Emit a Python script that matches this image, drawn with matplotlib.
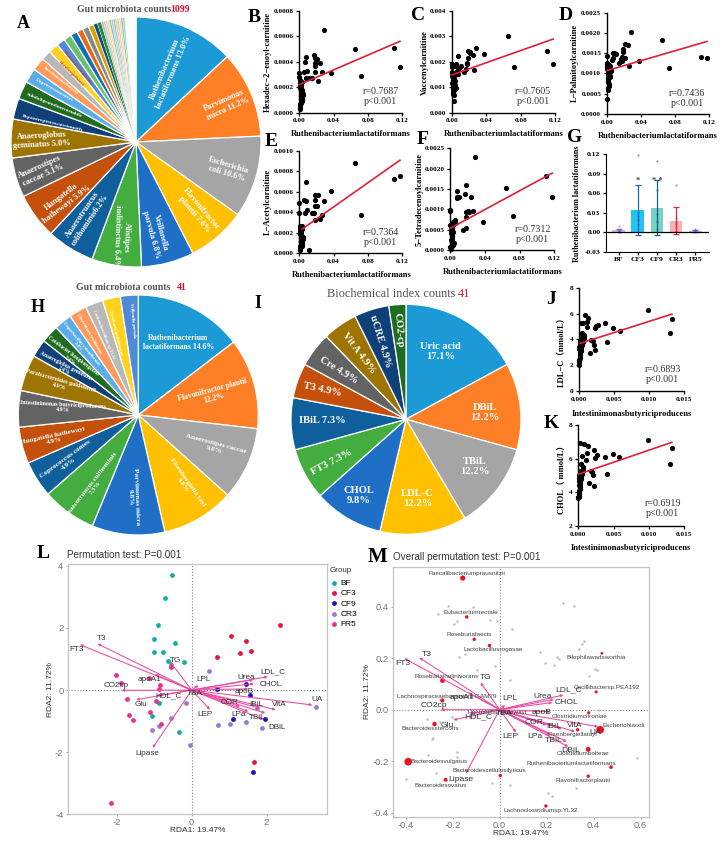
import matplotlib
matplotlib.use('Agg')
import matplotlib.pyplot as plt

W, H = 722, 842
SERIF = ['Liberation Serif', 'Noto Sans CJK SC']
SANS = ['Liberation Sans', 'DejaVu Sans']

# Pie A: Gut microbiota counts 1099
a_values = [13.0, 11.2, 10.6, 7.6, 6.8, 6.4, 6.2, 5.9, 5.1, 5.0, 2.7, 2.3, 1.9, 1.7, 1.3, 1.3,
            1.1, 1.0, 0.9, 0.8, 0.8, 0.7, 0.5, 0.5,
            0.3, 0.25, 0.25, 0.25, 0.25, 0.25, 0.25, 0.25, 0.25, 0.25, 0.25, 0.3, 1.4]
a_labels = ['Ruthenibacterium\nlactatiformans 13.0%', 'Parvimonas\nmicra 11.2%', 'Escherichia\ncoli 10.6%',
            'Flavonifractor\nplautii 7.6%', 'Veillonella\nparvula 6.8%', 'Alistipes\nindistinctus 6.4%',
            'Anaerotruncus\ncolihominis6.2%', 'Hungatella\nhathewayi 5.9%', 'Anaerostipes\ncaccae 5.1%',
            'Anaeroglobus\ngeminatus 5.0%', 'Peptostreptococcusstomatis', 'Subdoligranulumvariabile',
            'Coprococcuscomes', 'Intestinimonasbutyrici', 'Eisenbergiellatayi', 'Megamonasfuniformis']
a_label_x = [0.267, 0.72, 0.733, 0.493, 0.16, -0.115, -0.40, -0.573, -0.76, -0.755, -0.667, -0.653, -0.653, -0.6, -0.52, -0.47]
a_label_y = [0.573, 0.30, -0.219, -0.56, -0.733, -0.76, -0.60, -0.467, -0.232, 0.013, 0.152, 0.293, 0.413, 0.493, 0.547, 0.60]
a_label_rot = [67, 24, -17, -50, -75, -92, 56, 37, 24, 3, -13, -22, -30, -38, -45, -50]
a_label_size = [6, 6, 6, 6, 6, 6, 6, 6, 6, 6, 3.8, 3.8, 3.8, 3.2, 3.2, 3.2]
a_label_color = ['white'] * 14 + ['#c0392b', '#c0392b']

# Pie H: Gut microbiota counts 41
h_values = [14.6, 12.2, 9.8, 9.8, 9.8, 7.3, 4.9, 4.9, 4.9, 4.9, 2.4, 2.4, 2.4, 2.4, 2.4, 2.4, 2.4]
h_labels = ['Ruthenibacterium\nlactatiformans 14.6%', 'Flavonifractor plautii\n12.2%', 'Anaerostipes caccae\n9.8%',
            'Eisenbergiella tayi\n9.8%', 'Parvimonas micra\n9.8%', 'Anaerotruncus colihominis\n7.3%',
            'Coprococcus comes\n4.9%', 'Hungatella hathewayi\n4.9%', 'Intestinimonas butyriciproducens\n4.9%',
            'Parabacteroides goldsteinii\n4.9%', 'Anaeroglobus geminatus\n2.4%', 'Catabacter hongkongensis\n2.4%',
            'Coprobacillus cateniformis\n2.4%', 'Clostridium symbiosum', 'Lachnoclostridium sp.YL32',
            'Roseburia inulinivorans', 'Veillonella parvula']
h_label_x = [0.333, 0.625, 0.64, 0.389, -0.042, -0.375, -0.597, -0.708, -0.625, -0.653, -0.611, -0.556, -0.486, -0.408, -0.292, -0.194, -0.05]
h_label_y = [0.603, 0.175, -0.264, -0.569, -0.68, -0.597, -0.389, -0.194, 0.064, 0.264, 0.389, 0.472, 0.583, 0.68, 0.667, 0.68, 0.79]
h_label_rot = [0, 15, -15, -55, -88, 52, 36, 12, -3, -16, -27, -37, -50, -60, -68, -76, -85]
h_label_size = [5.6, 5.6, 5.2, 5.2, 5.2, 5, 5.2, 5, 4.3, 4.5, 4, 4, 3.4, 3.2, 3.2, 3.2, 3.2]

# Pie I: Biochemical index counts 41
i_values = [17.1, 12.2, 12.2, 12.2, 9.8, 7.3, 7.3, 4.9, 4.9, 4.9, 4.9, 2.4]
i_labels = ['Uric acid\n17.1%', 'DBiL\n12.2%', 'TBiL\n12.2%', 'LDL-C\n12.2%', 'CHOL\n9.8%', 'FT3 7.3%',
            'IBiL 7.3%', 'T3 4.9%', 'Cre 4.9%', 'Vit A 4.9%', 'uCRE 4.9%', 'CO2-cp']
i_label_x = [0.302, 0.689, 0.60, 0.102, -0.407, -0.648, -0.727, -0.727, -0.587, -0.413, -0.227, -0.067]
i_label_y = [0.59, 0.055, -0.413, -0.689, -0.66, -0.375, -0.012, 0.256, 0.43, 0.576, 0.677, 0.779]
i_label_rot = [0, 0, 0, 0, 0, 28, 0, -12, -32, -53, -73, -85]

pie_colors = ['#1b9ad6', '#ff7f27', '#a5a5a5', '#ffc000', '#1f6fc6', '#43ad3f', '#0f5f9c', '#c4500c',
              '#636363', '#9e7400', '#0f4178', '#1f6b1f', '#5aaee8', '#ff9a5c', '#b8b8b8', '#ffd21f',
              '#4f8ad6', '#6cc068', '#0f6fb8', '#e86a12', '#888888', '#d9a000', '#0f4f88', '#2f8a2f',
              '#8cc6ee', '#ffbb8c', '#cfcfcf', '#ffe27a', '#8fb4e6', '#a5d8a2',
              '#8cc6ee', '#ffbb8c', '#cfcfcf', '#ffe27a', '#8fb4e6', '#a5d8a2', 'white']

# Scatter panels B-F share the x values (relative abundance of R. lactatiformans)
x_rumino = [0.1176, 0.1106, 0.0725, 0.065, 0.0374, 0.0284, 0.026, 0.0245, 0.0214, 0.021, 0.0187, 0.0187, 0.0183,
            0.018, 0.0168, 0.0144, 0.0109, 0.0086, 0.0078, 0.0078, 0.0062, 0.0055,
            0.0, 0.0, 0.0005, 0.0008, 0.001, 0.0012, 0.0015, 0.0018, 0.002, 0.0022, 0.0025, 0.0028, 0.003, 0.0033,
            0.0036, 0.004, 0.0005, 0.001, 0.0015, 0.002, 0.0025, 0.003, 0.0035, 0.0008, 0.0012, 0.0018, 0.0022, 0.0045]
y_b = [0.00036, 0.00051, 0.00029, 0.0005, 0.00031, 0.00065, 0.00032, 0.00039, 0.00025, 0.00042, 0.00043, 0.00037,
       0.00032, 0.00039, 0.00045, 0.00027, 0.00027, 0.00033, 0.00044, 0.00027, 0.0004, 0.00032,
       0.00031, 0.00028, 0.00026, 0.00023, 0.00021, 0.00019, 0.00017, 0.00016, 0.00014, 0.00013, 0.00012, 0.00011,
       0.0001, 0.00009, 0.00018, 0.00015, 0.00006, 0.00004, 0.00008, 0.00012, 0.0002, 0.00024, 0.00017, 0.00003,
       0.00007, 0.00011, 0.00022, 0.00014]
y_c = [0.00192, 0.00243, 0.00178, 0.003, 0.00229, 0.00252, 0.00169, 0.00226, 0.00238, 0.00233, 0.00243, 0.00215,
       0.0019, 0.00193, 0.0017, 0.0016, 0.00185, 0.00175, 0.00222, 0.0015, 0.00165, 0.0019,
       0.00191, 0.00178, 0.0016, 0.00145, 0.00135, 0.0012, 0.00105, 0.00092, 0.00082, 0.00068, 0.00045, 0.00132,
       0.00098, 0.00108, 0.00125, 0.00185, 0.00115, 0.00075, 0.0014, 0.00128, 0.00102, 0.00088, 0.0015, 0.00155,
       0.0011, 0.00095, 0.00142, 0.00098]
y_d = [0.00139, 0.00141, 0.00114, 0.00183, 0.0013, 0.00202, 0.00119, 0.00171, 0.00173, 0.00138, 0.0016, 0.00154,
       0.00141, 0.00132, 0.00135, 0.00127, 0.00148, 0.0015, 0.0015, 0.00137, 0.00133, 0.00105,
       0.00115, 0.00123, 0.00143, 0.00112, 0.00105, 0.00098, 0.00092, 0.00085, 0.00082, 0.00075, 0.00072, 0.0007,
       0.00105, 0.00095, 0.00118, 0.00108, 0.00038, 0.00058, 0.00065, 0.00088, 0.00102, 0.0012, 0.00092, 0.00125,
       0.00078, 0.00115, 0.00098, 0.00108]
y_e = [0.00076, 0.00073, 0.00037, 0.00088, 0.00061, 0.00051, 0.00037, 0.00034, 0.00057, 0.00046, 0.00057, 0.00052,
       0.00046, 0.00033, 0.00039, 0.00039, 0.00003, 0.00042, 0.0007, 0.00051, 0.00039, 0.00052,
       0.00049, 0.00039, 0.00027, 0.00025, 0.00022, 0.00019, 0.00017, 0.00015, 0.00013, 0.00012, 0.00011, 0.0001,
       0.00008, 0.00007, 0.00027, 0.00016, 0.00006, 0.00004, 0.00009, 0.00012, 0.0002, 0.00024, 0.00013, 0.00003,
       0.00007, 0.00011, 0.00021, 0.00014]
y_f = [0.0013, 0.00183, 0.00084, 0.00152, 0.00069, 0.00228, 0.00097, 0.00131, 0.00094, 0.00097, 0.00055, 0.00094,
       0.00161, 0.00082, 0.00138, 0.00049, 0.00131, 0.00145, 0.00131, 0.00127, 0.00074, 0.00067,
       0.00098, 0.00095, 0.00062, 0.00058, 0.00052, 0.00048, 0.00042, 0.00038, 0.00032, 0.00028, 0.00022, 0.00018,
       0.00015, 0.00012, 0.00068, 0.00045, 0.00008, 0.00004, 0.00025, 0.00035, 0.00052, 0.00062, 0.00016, 0.00002,
       0.00006, 0.00012, 0.0005, 0.00018]

# Panels J and K share the x values (I. butyriciproducens)
x_intest = [0.01324, 0.01296, 0.00987, 0.0058, 0.0049, 0.00375, 0.004, 0.00266, 0.00237, 0.00223, 0.00228, 0.00157,
            0.002, 0.00175, 0.00214, 0.00081, 0.00133, 0.00119, 0.00109, 0.0005, 0.0003, 0.0007, 0.0004,
            0.0, 0.00002, 0.00005, 0.00008, 0.0001, 0.00012, 0.00015, 0.00018, 0.0002, 0.00022, 0.00025, 0.00028,
            0.0003, 0.00035, 0.0004, 0.00045, 0.0005, 0.00055, 0.0006, 0.00065, 0.0007, 0.00003, 0.00006, 0.00012,
            0.00016, 0.00024, 0.00032]
y_j = [5.6, 4.47, 6.3, 4.68, 4.86, 5.3, 3.78, 5.12, 5.04, 4.86, 3.19, 2.98, 3.88, 3.95, 3.57, 5.91, 5.68, 5.37, 4.99,
       5.3, 5.3, 4.34, 4.47,
       2.05, 2.3, 2.4, 2.55, 2.6, 2.7, 2.8, 2.9, 3.0, 3.1, 3.2, 3.3, 3.4, 3.5, 3.6, 3.7, 3.8, 3.9, 4.0, 4.1, 4.2,
       3.25, 3.45, 3.65, 3.85, 4.05, 4.4]
y_k = [6.65, 5.68, 7.11, 6.12, 6.28, 6.1, 5.11, 6.22, 6.02, 6.51, 4.4, 4.55, 5.23, 5.27, 5.01, 6.89, 6.77, 6.32, 5.92,
       6.16, 6.91, 5.5, 5.7,
       3.65, 3.7, 3.75, 3.8, 3.9, 4.0, 4.1, 4.2, 4.3, 4.4, 4.5, 4.6, 4.7, 4.8, 4.9, 5.0, 5.1, 5.2, 5.3, 5.4, 5.5,
       4.45, 4.65, 4.85, 5.05, 5.25, 5.7]

# Fit lines, (x0, x1), (y0, y1)
line_b = ([0.0, 0.1176], [0.00022, 0.00056])
line_c = ([0.0, 0.1176], [0.00148, 0.00289])
line_d = ([0.0, 0.1176], [0.00107, 0.00179])
line_e = ([0.003, 0.1176], [0.000235, 0.00091])
line_f = ([0.0, 0.1176], [0.00053, 0.00189])
line_j = ([0.00014, 0.01324], [3.70, 5.96])
line_k = ([0.0, 0.01324], [5.07, 6.97])

# Panel G
g_groups = ['BF', 'CF3', 'CF9', 'CR3', 'FR5']
g_means = [0.003, 0.034, 0.037, 0.017, 0.002]
g_low = [0.0, -0.004, -0.005, -0.003, 0.0]
g_high = [0.005, 0.072, 0.08, 0.038, 0.004]
g_dots = [[0.01, 0.004, 0.003, 0.002, 0.001], [0.118, 0.03, 0.025, 0.02, 0.018, 0.012],
          [0.11, 0.065, 0.028, 0.017, 0.015, 0.005], [0.072, 0.021, 0.015, 0.012, 0.008, 0.002],
          [0.005, 0.004, 0.003, 0.002, 0.001]]
g_fill = ['#c9b6ec', '#22c5ee', '#79cfc9', '#f7b0b6', '#c4b2ee']
g_edge = ['#7a55c8', '#1f62d0', '#0c6b70', '#e0283c', '#7a55c8']

# RDA sample scores for L
bf_x = [-0.53, -0.70, -0.89, -1.00, -0.44, -1.01, -0.76, -0.63, -0.20, -0.56, -0.88, -1.05, -0.35]
bf_y = [3.70, 2.95, 2.11, 1.63, 1.50, 1.23, 1.23, 0.95, 0.89, 0.81, -0.43, -0.84, -1.34]
cf3_x = [2.36, 1.06, 1.45, 1.57, 1.28, 0.68, 1.67]
cf3_y = [2.08, 1.74, 1.58, 1.26, 1.20, 1.06, -2.32]
cf9_x = [0.68, 1.46, 1.56, 1.11, 1.96, 1.63]
cf9_y = [0.05, 0.20, -0.17, -0.92, -0.94, -2.63]
cr3_x = [0.47, 3.31, -0.16, -0.55, -1.06, -0.87, -0.04, 0.71, 1.02, 1.45, 1.89, 1.73]
cr3_y = [0.61, -0.53, -0.42, -0.90, -1.28, -1.15, -1.78, -1.14, -1.09, -1.04, -1.23, -0.58]
fr5_x = [-2.03, -1.88, -1.74, -1.67, -1.57, -1.11, -0.96, -0.81, -2.16, -0.54, -1.14, -0.86, -0.84]
fr5_y = [0.47, 0.24, -0.28, -0.80, -0.96, -0.72, -0.34, -1.10, -3.63, 0.75, 0.38, 0.05, 0.15]

# Environmental vectors, same order for L and M
env_names = ['T3', 'FT3', 'TG', 'apoA1', 'CO2cp', 'Glu', 'HDL_C', 'TBA', 'Lipase', 'LPL', 'LEP', 'LDL_C', 'Urea',
             'CHOL', 'apoB', 'COR', 'IBiL', 'VitA', 'UA', 'LPa', 'TBiL', 'DBiL']
l_env_x = [-2.51, -2.98, -0.58, -0.98, -1.87, -1.48, -0.93, 0.13, -1.04, 0.18, 0.49, 2.03, 1.64, 1.66, 1.51, 1.29, 1.82, 2.24, 3.22, 1.51, 1.96, 1.91]
l_env_y = [1.49, 1.46, 0.92, 0.51, -0.01, -0.31, -0.18, -0.08, -1.86, 0.15, -0.63, 0.43, 0.33, 0.20, 0.04, -0.53, -0.58, -0.63, -0.48, -0.69, -0.74, -0.95]
l_text_x = [-2.40, -3.08, -0.44, -1.14, -2.02, -1.34, -0.62, 0.07, -1.19, 0.32, 0.35, 2.17, 1.46, 2.10, 1.40, 1.00, 1.72, 2.35, 3.35, 1.25, 1.75, 2.28]
l_text_y = [1.66, 1.32, 0.94, 0.34, 0.14, -0.46, -0.18, -0.12, -2.04, 0.33, -0.80, 0.59, 0.41, 0.17, -0.06, -0.40, -0.47, -0.45, -0.30, -0.79, -0.89, -1.22]
m_env_x = [-0.342, -0.406, -0.081, -0.133, -0.25, -0.197, -0.126, 0.03, -0.143, 0.023, 0.07, 0.271, 0.231, 0.224, 0.214, 0.2, 0.264, 0.32, 0.42, 0.214, 0.285, 0.292]
m_env_y = [0.202, 0.199, 0.105, 0.066, 0.0, -0.04, -0.014, -0.008, -0.247, 0.018, -0.088, 0.057, 0.04, 0.028, -0.008, -0.06, -0.075, -0.085, -0.066, -0.098, -0.124, -0.144]
m_text_x = [-0.312, -0.413, -0.06, -0.159, -0.278, -0.221, -0.091, 0.018, -0.165, 0.045, 0.045, 0.294, 0.183, 0.285, 0.18, 0.148, 0.231, 0.318, 0.409, 0.149, 0.23, 0.302]
m_text_y = [0.214, 0.179, 0.126, 0.048, 0.017, -0.06, -0.028, -0.014, -0.272, 0.043, -0.105, 0.078, 0.05, 0.028, -0.012, -0.049, -0.065, -0.062, -0.087, -0.104, -0.119, -0.158]

# Species in M
sp_names = ['Faecalibacteriumprausnitzii', 'Eubacteriumrectale', 'Roseburiafaecis', 'Lactobacillusrogosae',
            'Roseburiainulinivorans', 'Lachnospiraceaebacterium GAM79', 'Bacteroidesstercoris', 'Bacteroidesvulgatus',
            'Bacteroidescellulosilyticus', 'Bacteroidesovatus', 'Lachnoclostridiumsp.YL32', 'Flavonifractorplautii',
            'Ruthenibacteriumlactatiformans', 'Clostridiumbolteae', 'Eisenbergiellatayi', 'Escherichiacoli',
            'Clostridiumcitroniae', 'Oscillibactersp.PEA192', 'Bilophilawadsworthia', 'Hungatellahathewayi']
sp_x = [-0.157, -0.14, -0.108, -0.043, -0.243, -0.244, -0.277, -0.389, 0.003, -0.23, 0.197, 0.377, 0.474, 0.377, 0.332, 0.428, 0.379, 0.411, 0.435, 0.0]
sp_y = [0.511, 0.36, 0.273, 0.249, 0.113, 0.036, -0.056, -0.202, -0.256, -0.272, -0.374, -0.258, -0.223, -0.154, -0.078, -0.078, -0.012, 0.069, 0.219, -0.005]
sp_text_x = [-0.139, -0.122, -0.129, -0.026, -0.226, -0.226, -0.295, -0.258, -0.043, -0.251, 0.177, 0.356, 0.306, 0.355, 0.311, 0.528, 0.342, 0.455, 0.41, -0.012]
sp_text_y = [0.529, 0.378, 0.29, 0.232, 0.129, 0.053, -0.075, -0.202, -0.238, -0.293, -0.392, -0.276, -0.208, -0.171, -0.097, -0.063, -0.028, 0.085, 0.202, -0.01]
sp_size = [14, 6, 6, 6, 12, 9, 10, 30, 6, 8, 6, 6, 7, 12, 6, 30, 5, 5, 4, 3]
other_x = [-0.218, -0.113, -0.261, -0.18, -0.193, -0.04, -0.013, 0.051, 0.268, 0.316, 0.36, 0.352, 0.339, 0.173, 0.245, 0.252, 0.193, 0.23, 0.406, 0.414, 0.38,
           -0.148, -0.172, -0.095, -0.021, 0.044, -0.169, -0.311, -0.289, -0.282, -0.304, -0.183, -0.182, -0.271, -0.399, 0.044, -0.034, 0.224, 0.206, 0.323, 0.586, 0.42, -0.204, -0.254]
other_y = [0.403, 0.399, 0.373, 0.344, 0.333, 0.348, 0.344, 0.312, 0.413, 0.401, 0.268, 0.255, 0.234, 0.225, 0.203, 0.195, 0.183, 0.175, 0.157, 0.154, 0.132,
           0.215, 0.203, 0.154, 0.171, 0.115, 0.126, -0.036, -0.114, -0.109, -0.176, -0.163, -0.183, -0.245, -0.271, -0.293, -0.283, -0.334, -0.325, -0.305, -0.189, -0.001, -0.027, -0.047]

fig = plt.figure(figsize=(W / 100, H / 100), dpi=100)


def axpx(left, top, right, bottom):
    return fig.add_axes([left / W, 1 - bottom / H, (right - left) / W, (bottom - top) / H])


def txt(x, y, s, **kw):
    kw.setdefault('ha', 'center')
    kw.setdefault('va', 'center')
    return fig.text(x / W, 1 - y / H, s, **kw)


def letter(x, y, s, size=13):
    txt(x, y, s, family=SERIF, weight='bold', fontsize=size, color='black')


def pie_panel(cx, cy, r, values, lx, ly, lrot, labels, sizes, colors=None):
    ax = axpx(cx - r, cy - r, cx + r, cy + r)
    wedges, _ = ax.pie(values, colors=pie_colors[:len(values)], startangle=90, counterclock=False, radius=1,
                       wedgeprops=dict(edgecolor='white', linewidth=0.9))
    for w, v in zip(wedges, values):
        if v < 0.6:
            w.set_linewidth(0.25)
    ax.set_xlim(-1, 1)
    ax.set_ylim(-1, 1)
    ax.set_clip_on(False)
    for i, lab in enumerate(labels):
        col = 'white' if colors is None else colors[i]
        ax.text(lx[i], ly[i], lab, rotation=lrot[i], rotation_mode='anchor', ha='center', va='center',
                family=SERIF, weight='bold', fontsize=sizes[i], color=col, linespacing=1.15)
    return ax


def prism(rect, xs, ys, line, xticks, yticks, xfmt, yfmt, ylim):
    ax = axpx(*rect)
    ax.scatter(xs, ys, s=14, color='black', clip_on=False, zorder=3, linewidths=0)
    ax.plot(line[0], line[1], color='#dd1f3a', lw=1.2, zorder=4, clip_on=False)
    ax.set_xlim(xticks[0], xticks[-1])
    ax.set_ylim(*ylim)
    ax.set_xticks(xticks)
    ax.set_yticks(yticks)
    ax.set_xticklabels([xfmt % t for t in xticks])
    ax.set_yticklabels([yfmt % t for t in yticks])
    for s in ['top', 'right']:
        ax.spines[s].set_visible(False)
    for s in ['left', 'bottom']:
        ax.spines[s].set_linewidth(1.0)
    ax.tick_params(length=2.5, width=0.9, pad=1.5, labelsize=5.2)
    for t in ax.get_xticklabels() + ax.get_yticklabels():
        t.set_family(SERIF)
        t.set_weight('bold')
    ax.set_facecolor('none')
    return ax


def bold_label(x, y, s, rot=0, size=6.1):
    txt(x, y, s, family=SERIF, weight='bold', fontsize=size, rotation=rot)


def stats(x, y, s):
    txt(x, y, s, family=SERIF, fontsize=7.2, color='#333333', linespacing=1.1)


def title2(x1, x2, y, a, b, weight='bold', size=7.1):
    txt(x1, y, a, ha='left', family=SERIF, weight=weight, fontsize=size, color='#555555')
    txt(x2, y, b, ha='left', family=SERIF, weight=weight, fontsize=size, color='#d0142c')


def rda_axes(rect, xlim, ylim, xticks, yticks, xfmt):
    ax = axpx(*rect)
    ax.set_xlim(*xlim)
    ax.set_ylim(*ylim)
    ax.axhline(0, color='#8a8a8a', lw=0.8, ls=':', zorder=1)
    ax.axvline(0, color='#8a8a8a', lw=0.8, ls=':', zorder=1)
    ax.set_xticks(xticks)
    ax.set_yticks(yticks)
    ax.set_xticklabels([xfmt % t for t in xticks])
    ax.set_yticklabels([xfmt % t for t in yticks])
    ax.tick_params(length=1.5, width=0.5, color='#888888', labelcolor='#777777', labelsize=6.8, pad=1.5)
    for t in ax.get_xticklabels() + ax.get_yticklabels():
        t.set_family(SANS)
    for s in ax.spines.values():
        s.set_color('#c4c4c4')
        s.set_linewidth(0.9)
    ax.set_xlabel('RDA1: 19.47%', family=SANS, fontsize=6, color='#333333', labelpad=0)
    ax.set_ylabel('RDA2: 11.72%', family=SANS, fontsize=6, color='#333333', labelpad=1)
    return ax


def vectors(ax, ex, ey):
    for x, y in zip(ex, ey):
        ax.annotate('', xy=(x, y), xytext=(0, 0), zorder=3,
                    arrowprops=dict(arrowstyle='-|>', color='#ea4aa0', lw=0.75, mutation_scale=3.5,
                                    shrinkA=0, shrinkB=0))


# A
pie_panel(136, 142, 125, a_values, a_label_x, a_label_y, a_label_rot, a_labels, a_label_size, a_label_color)
title2(77, 170, 9, 'Gut microbiota counts', '1099')
letter(23, 23, 'A')

# B-F
x_ticks = [0.0, 0.04, 0.08, 0.12]
prism((299.3, 10.7, 402, 112.7), x_rumino, y_b, line_b, x_ticks, [0, 0.0002, 0.0004, 0.0006, 0.0008], '%.2f', '%.4f', (0, 0.0008))
prism((451.7, 10.7, 555.3, 112.7), x_rumino, y_c, line_c, x_ticks, [0, 0.001, 0.002, 0.003, 0.004], '%.2f', '%.3f', (0, 0.004))
prism((606.7, 12.7, 709, 114), x_rumino, y_d, line_d, x_ticks, [0, 0.0005, 0.001, 0.0015, 0.002, 0.0025], '%.2f', '%.4f', (0, 0.0025))
prism((299.3, 151, 402, 253.3), x_rumino, y_e, line_e, x_ticks, [0, 0.0002, 0.0004, 0.0006, 0.0008, 0.001], '%.2f', '%.4f', (0, 0.001))
prism((450, 148.3, 554.3, 250), x_rumino, y_f, line_f, x_ticks, [0, 0.0005, 0.001, 0.0015, 0.002, 0.0025], '%.2f', '%.4f', (0, 0.0025))

rlabel = 'Ruthenibacteriumlactatiformans'
bold_label(350.7, 134, rlabel)
bold_label(503.5, 134, rlabel)
bold_label(658, 135.7, rlabel)
bold_label(351.7, 275, rlabel)
bold_label(503, 272, rlabel)
bold_label(267.7, 61.7, 'Hexadec−2−enoyl-carnitine', rot=90)
bold_label(425, 63, 'Vaccenylcarnitine', rot=90)
bold_label(575, 63, 'L−Palmitoylcarnitine', rot=90)
bold_label(267.7, 202, 'L−Acetylcarnitine', rot=90)
bold_label(420, 200, '5−Tetradecenoylcarnitine', rot=90)
stats(380.7, 96.5, 'r=0.7687\np<0.001')
stats(533, 96.5, 'r=0.7605\np<0.001')
stats(687, 98.3, 'r=0.7436\np<0.001')
stats(380.7, 237.5, 'r=0.7364\np<0.001')
stats(532.7, 234.5, 'r=0.7312\np<0.001')
letter(254, 17, 'B', 14)
letter(418, 16, 'C', 14)
letter(566, 16, 'D', 14)
letter(271, 141, 'E', 14)
letter(423, 139, 'F', 14)

# G
ax_g = axpx(606, 154, 709, 251.7)
ax_g.bar(range(5), g_means, width=0.66, color=g_fill, zorder=2)
for i in range(5):
    ax_g.errorbar(i, g_means[i], yerr=[[g_means[i] - g_low[i]], [g_high[i] - g_means[i]]], color=g_edge[i],
                  lw=0.9, capsize=2.2, capthick=0.9, zorder=3)
    ax_g.scatter([i] * len(g_dots[i]), g_dots[i], s=2.5, color=g_edge[i], alpha=0.6, linewidths=0, zorder=4, clip_on=False)
ax_g.axhline(0, color='black', lw=0.9, zorder=5)
ax_g.set_xlim(-0.66, 4.72)
ax_g.set_ylim(-0.03, 0.12)
ax_g.set_xticks(range(5))
ax_g.set_xticklabels(g_groups)
ax_g.set_yticks([-0.03, 0, 0.03, 0.06, 0.09, 0.12])
ax_g.set_yticklabels(['-0.03', '0.00', '0.03', '0.06', '0.09', '0.12'])
ax_g.tick_params(length=2.5, width=0.9, pad=1.5, labelsize=5.4)
for t in ax_g.get_xticklabels() + ax_g.get_yticklabels():
    t.set_family(SERIF)
    t.set_weight('bold')
for s in ['top', 'right']:
    ax_g.spines[s].set_visible(False)
ax_g.text(1, 0.079, '*', ha='center', va='center', family=SERIF, weight='bold', fontsize=6, color='#444444')
ax_g.text(2, 0.079, '* *', ha='center', va='center', family=SERIF, weight='bold', fontsize=6, color='#444444')
bold_label(577, 204, 'Ruthenibacterium lactatiformans', rot=90, size=5.9)
letter(575, 137, 'G', 14)

# H
pie_panel(138.3, 415, 120, h_values, h_label_x, h_label_y, h_label_rot, h_labels, h_label_size)
title2(76, 177, 287, 'Gut microbiota counts', '41')
letter(38, 307, 'H')

# I
pie_panel(406, 419.3, 115, i_values, i_label_x, i_label_y, i_label_rot, i_labels, [7.6] * 12)
title2(327, 457.7, 294, 'Biochemical index counts', '41', weight='normal', size=8.8)
letter(258, 303, 'I')

# J, K
x2_ticks = [0.0, 0.005, 0.01, 0.015]
prism((579, 287.7, 684.3, 391.3), x_intest, y_j, line_j, x2_ticks, [0, 2, 4, 6, 8], '%.3f', '%d', (0, 8))
prism((578.3, 425, 684.3, 526), x_intest, y_k, line_k, x2_ticks, [2, 4, 6, 8], '%.3f', '%d', (2, 8))
ilabel = 'Intestinimonasbutyriciproducens'
bold_label(631.7, 413.7, ilabel)
bold_label(631, 548, ilabel)
bold_label(562, 350, 'LDL−C（mmol/L）', rot=90)
bold_label(561.7, 478, 'CHOL（ mmol/L）', rot=90)
stats(662.7, 374.7, 'r=0.6893\np<0.001')
stats(662.7, 508.2, 'r=0.6919\np<0.001')
letter(551, 299, 'J', 14)
letter(551, 423, 'K', 14)

# L
ax_l = rda_axes((67.7, 564.3, 327.3, 814.3), (-3.31, 3.62), (-4.0, 4.05), [-2, 0, 2], [-4, -2, 0, 2, 4], '%d')
groups = [('BF', bf_x, bf_y, '#14ad9e'), ('CF3', cf3_x, cf3_y, '#e8143c'), ('CF9', cf9_x, cf9_y, '#1c10c8'),
          ('CR3', cr3_x, cr3_y, '#9a7bd0'), ('FR5', fr5_x, fr5_y, '#e8308f')]
for name, gx, gy, col in groups:
    ax_l.scatter(gx, gy, s=12, color=col, linewidths=0, zorder=2, label=name)
vectors(ax_l, l_env_x, l_env_y)
for i, name in enumerate(env_names):
    ax_l.text(l_text_x[i], l_text_y[i], name, ha='center', va='center', family=SANS, fontsize=5.9, color='#333333', zorder=5)
ax_l.legend(loc='upper left', bbox_to_anchor=(1.0, 0.946), frameon=False, borderpad=0, borderaxespad=0.15,
            labelspacing=0.3, handletextpad=0.1, handlelength=1.3, prop=dict(family=SANS, size=6))
txt(329.5, 570, 'Group', ha='left', family=SANS, fontsize=5.8, color='#333333')
txt(66.7, 555, 'Permutation test: P=0.001', ha='left', family=SANS, fontsize=7.1, color='#333333')
letter(43, 554, 'L', 14)

# M
ax_m = rda_axes((392.7, 566.7, 649.3, 816.7), (-0.455, 0.637), (-0.4155, 0.555), [-0.4, -0.2, 0.0, 0.2, 0.4, 0.6],
                [-0.4, -0.2, 0.0, 0.2, 0.4], '%.1f')
ax_m.scatter(other_x, other_y, s=3.5, color='#c4c4c4', linewidths=0, zorder=2)
ax_m.scatter(sp_x, sp_y, s=sp_size, color='#ee1020', linewidths=0, zorder=2)
vectors(ax_m, m_env_x, m_env_y)
for i, name in enumerate(sp_names):
    ax_m.text(sp_text_x[i], sp_text_y[i], name, ha='center', va='center', family=SANS, fontsize=4.6, color='#444444', zorder=5)
for i, name in enumerate(env_names):
    ax_m.text(m_text_x[i], m_text_y[i], name, ha='center', va='center', family=SANS, fontsize=6.1, color='#333333', zorder=6)
txt(392.7, 557.3, 'Overall permutation test: P=0.001', ha='left', family=SANS, fontsize=7.1, color='#333333')
letter(377, 557, 'M', 15)

fig.savefig('out.png', dpi=100)
